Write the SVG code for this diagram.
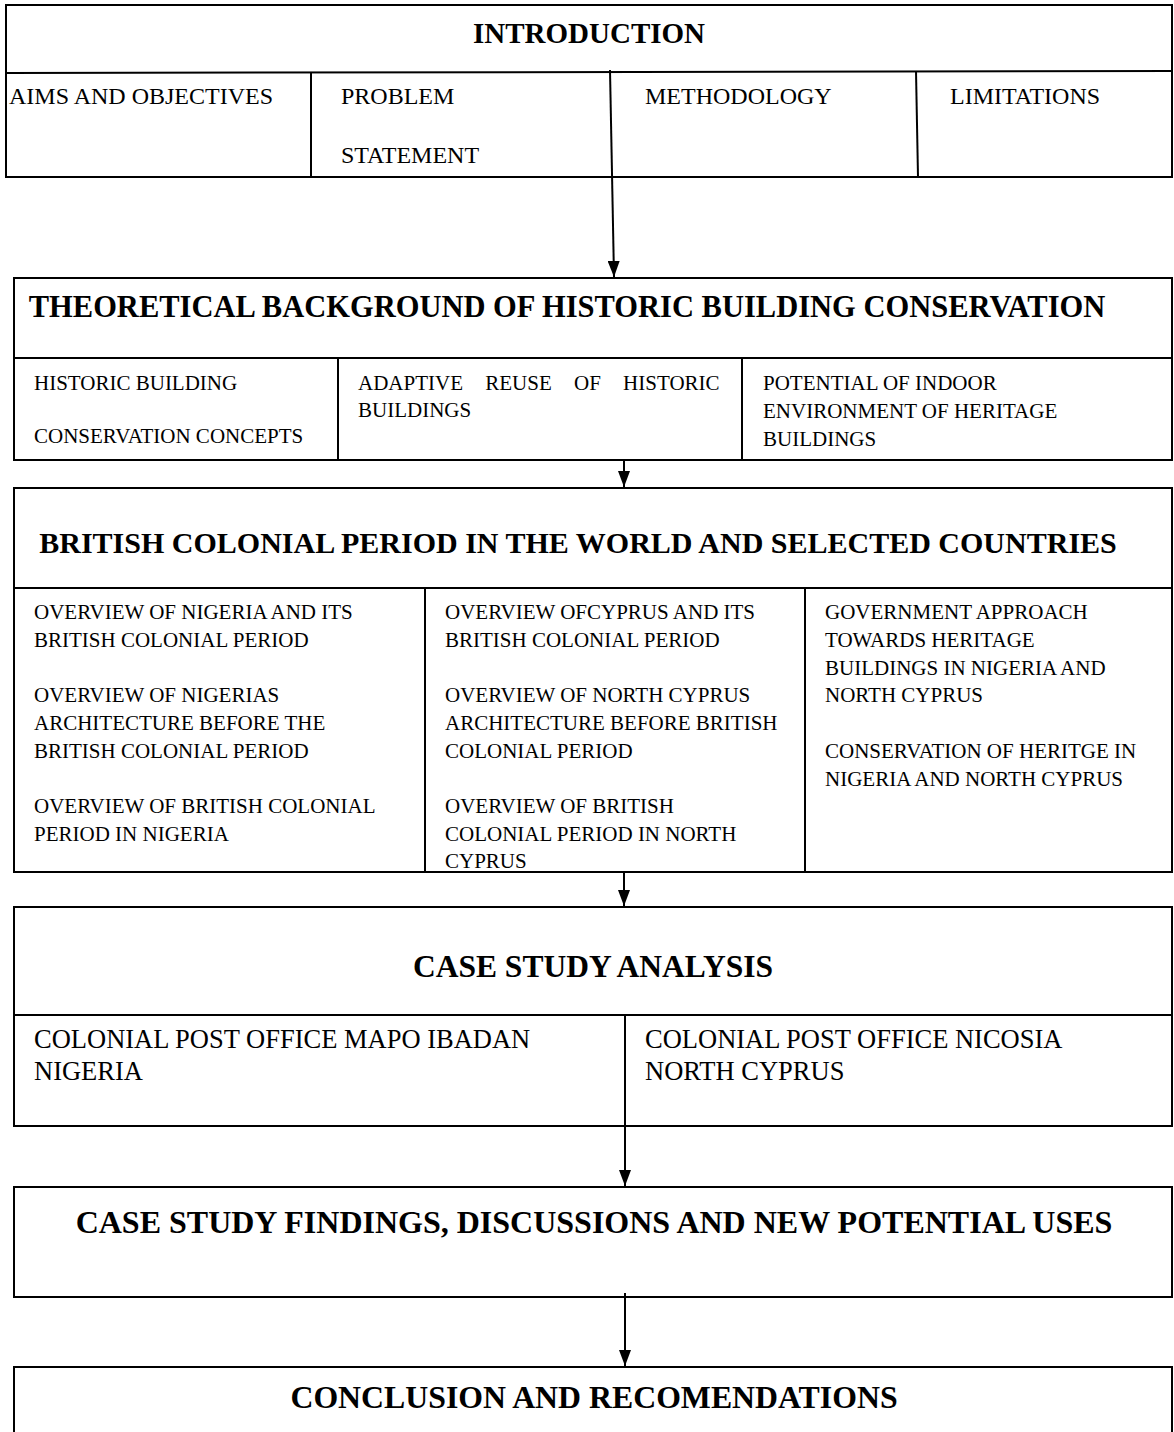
<svg xmlns="http://www.w3.org/2000/svg" width="1174" height="1432" viewBox="0 0 1174 1432">
<defs>
<style>
.box{fill:#fff;stroke:#000;stroke-width:2}
.ln{stroke:#000;stroke-width:2;fill:none}
.t{font-family:"Liberation Serif","Times New Roman",serif;fill:#000}
.h{font-weight:bold;text-anchor:middle}
.conn{stroke:#000;stroke-width:2;fill:none}
</style>
<marker id="ah" viewBox="0 0 16 12" refX="16" refY="6" markerWidth="16" markerHeight="12" markerUnits="userSpaceOnUse" orient="auto">
<path d="M0,0 L16,6 L0,12 Z" fill="#000"/>
</marker>
</defs>
<rect width="1174" height="1432" fill="#fff"/>

<g id="introduction">
<rect class="box" x="6" y="5" width="1166" height="172"/>
<line class="ln" x1="6" y1="73" x2="1172" y2="71"/>
<line class="ln" x1="311" y1="73" x2="311" y2="177"/>
<line class="ln" x1="916" y1="71" x2="918" y2="177"/>
<text class="t h" x="589" y="43" font-size="29">INTRODUCTION</text>
<text class="t" x="9" y="104" font-size="24">AIMS AND OBJECTIVES</text>
<text class="t" x="341" y="104" font-size="24">PROBLEM</text>
<text class="t" x="341" y="163" font-size="24">STATEMENT</text>
<text class="t" x="645" y="104" font-size="24">METHODOLOGY</text>
<text class="t" x="950" y="104" font-size="24">LIMITATIONS</text>
</g>

<g id="theoretical">
<rect class="box" x="14" y="278" width="1158" height="182"/>
<line class="ln" x1="14" y1="358" x2="1172" y2="358"/>
<line class="ln" x1="338" y1="358" x2="338" y2="460"/>
<line class="ln" x1="742" y1="358" x2="742" y2="460"/>
<text class="t h" x="567" y="317" font-size="30.5">THEORETICAL BACKGROUND OF HISTORIC BUILDING CONSERVATION</text>
<text class="t" x="34" y="390" font-size="21">HISTORIC BUILDING</text>
<text class="t" x="34" y="443" font-size="21">CONSERVATION CONCEPTS</text>
<text class="t" x="358" y="390" font-size="21" word-spacing="17">ADAPTIVE REUSE OF HISTORIC</text>
<text class="t" x="358" y="417" font-size="21">BUILDINGS</text>
<text class="t" x="763" y="390" font-size="21">POTENTIAL OF INDOOR</text>
<text class="t" x="763" y="418" font-size="21">ENVIRONMENT OF HERITAGE</text>
<text class="t" x="763" y="446" font-size="21">BUILDINGS</text>
</g>

<g id="british">
<rect class="box" x="14" y="488" width="1158" height="384"/>
<line class="ln" x1="14" y1="588" x2="1172" y2="588"/>
<line class="ln" x1="425" y1="588" x2="425" y2="872"/>
<line class="ln" x1="805" y1="588" x2="805" y2="872"/>
<text class="t h" x="578" y="553" font-size="30">BRITISH COLONIAL PERIOD IN THE WORLD AND SELECTED COUNTRIES</text>
<text class="t" x="34" y="619" font-size="21">OVERVIEW OF NIGERIA AND ITS</text>
<text class="t" x="34" y="647" font-size="21">BRITISH COLONIAL PERIOD</text>
<text class="t" x="34" y="702" font-size="21">OVERVIEW OF NIGERIAS</text>
<text class="t" x="34" y="730" font-size="21">ARCHITECTURE BEFORE THE</text>
<text class="t" x="34" y="758" font-size="21">BRITISH COLONIAL PERIOD</text>
<text class="t" x="34" y="813" font-size="21">OVERVIEW OF BRITISH COLONIAL</text>
<text class="t" x="34" y="841" font-size="21">PERIOD IN NIGERIA</text>
<text class="t" x="445" y="619" font-size="21">OVERVIEW OFCYPRUS AND ITS</text>
<text class="t" x="445" y="647" font-size="21">BRITISH COLONIAL PERIOD</text>
<text class="t" x="445" y="702" font-size="21">OVERVIEW OF NORTH CYPRUS</text>
<text class="t" x="445" y="730" font-size="21">ARCHITECTURE BEFORE BRITISH</text>
<text class="t" x="445" y="758" font-size="21">COLONIAL PERIOD</text>
<text class="t" x="445" y="813" font-size="21">OVERVIEW OF BRITISH</text>
<text class="t" x="445" y="841" font-size="21">COLONIAL PERIOD IN NORTH</text>
<text class="t" x="445" y="868" font-size="21">CYPRUS</text>
<text class="t" x="825" y="619" font-size="21">GOVERNMENT APPROACH</text>
<text class="t" x="825" y="647" font-size="21">TOWARDS HERITAGE</text>
<text class="t" x="825" y="675" font-size="21">BUILDINGS IN NIGERIA AND</text>
<text class="t" x="825" y="702" font-size="21">NORTH CYPRUS</text>
<text class="t" x="825" y="758" font-size="21">CONSERVATION OF HERITGE IN</text>
<text class="t" x="825" y="786" font-size="21">NIGERIA AND NORTH CYPRUS</text>
</g>

<g id="case-study">
<rect class="box" x="14" y="907" width="1158" height="219"/>
<line class="ln" x1="14" y1="1015" x2="1172" y2="1015"/>
<text class="t h" x="593" y="977" font-size="31.5">CASE STUDY ANALYSIS</text>
<text class="t" x="34" y="1048" font-size="26.5">COLONIAL POST OFFICE MAPO IBADAN</text>
<text class="t" x="34" y="1080" font-size="26.5">NIGERIA</text>
<text class="t" x="645" y="1048" font-size="26.5">COLONIAL POST OFFICE NICOSIA</text>
<text class="t" x="645" y="1080" font-size="26.5">NORTH CYPRUS</text>
</g>

<g id="findings">
<rect class="box" x="14" y="1187" width="1158" height="110"/>
<text class="t h" x="594" y="1233" font-size="32">CASE STUDY FINDINGS, DISCUSSIONS AND NEW POTENTIAL USES</text>
</g>

<g id="conclusion">
<rect class="box" x="14" y="1367" width="1158" height="80"/>
<text class="t h" x="594" y="1408" font-size="31.8">CONCLUSION AND RECOMENDATIONS</text>
</g>

<g id="connectors">
<line class="conn" x1="610" y1="70" x2="614" y2="277" marker-end="url(#ah)"/>
<line class="conn" x1="624" y1="460" x2="624" y2="487" marker-end="url(#ah)"/>
<line class="conn" x1="624" y1="872" x2="624" y2="906" marker-end="url(#ah)"/>
<line class="conn" x1="625" y1="1015" x2="625" y2="1186" marker-end="url(#ah)"/>
<line class="conn" x1="625" y1="1293" x2="625" y2="1366" marker-end="url(#ah)"/>
</g>
</svg>
